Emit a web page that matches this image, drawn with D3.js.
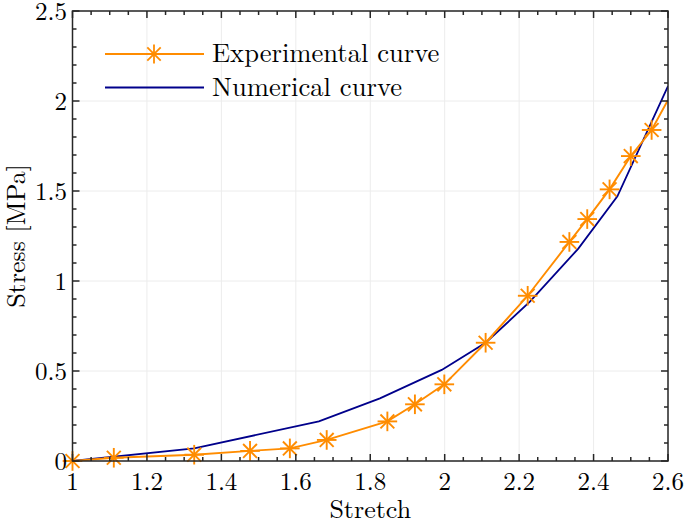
<!DOCTYPE html>
<html>
<head>
<meta charset="utf-8">
<script src="https://cdn.jsdelivr.net/npm/d3@7"></script>
<style>
  html, body { margin: 0; padding: 0; background: #fff; }
  svg { display: block; }
</style>
</head>
<body>
<svg id="chart" width="685" height="520"></svg>
<script>
// ---- data ----
const stretchExp = [1.0, 1.111, 1.327, 1.477, 1.584, 1.683, 1.846, 1.920, 1.999, 2.110, 2.223, 2.335, 2.383, 2.443, 2.500, 2.556, 2.600];
const stressExp  = [0.0, 0.018, 0.035, 0.056, 0.070, 0.117, 0.220, 0.315, 0.426, 0.657, 0.918, 1.217, 1.344, 1.509, 1.694, 1.839, 2.006];
const stretchNum = [1.0, 1.327, 1.662, 1.826, 1.992, 2.110, 2.229, 2.359, 2.464, 2.600];
const stressNum  = [0.0, 0.070, 0.220, 0.348, 0.506, 0.657, 0.885, 1.180, 1.470, 2.083];
const xTicks = [1, 1.2, 1.4, 1.6, 1.8, 2, 2.2, 2.4, 2.6];
const yTicks = [0, 0.5, 1, 1.5, 2, 2.5];
const seriesNames = ["Experimental curve", "Numerical curve"];
const colors = ["#FF8C00", "#00008B"];

const FONT = "'Latin Modern Roman', 'CMU Serif', 'Liberation Serif', serif";
const svg = d3.select("#chart").attr("font-family", FONT);
const L = 72.5, R = 668, T = 11, B = 461;
const x = d3.scaleLinear().domain([1, 2.6]).range([L, R]);
const y = d3.scaleLinear().domain([0, 2.5]).range([B, T]);

// grid
const g = svg.append("g");
g.selectAll(".gx").data(xTicks).join("line")
  .attr("x1", d => x(d)).attr("x2", d => x(d)).attr("y1", T).attr("y2", B)
  .attr("stroke", "#ececec").attr("stroke-width", 1);
g.selectAll(".gy").data(yTicks).join("line")
  .attr("x1", L).attr("x2", R).attr("y1", d => y(d)).attr("y2", d => y(d))
  .attr("stroke", "#ececec").attr("stroke-width", 1);

// clip
svg.append("clipPath").attr("id", "clip").append("rect")
  .attr("x", L).attr("y", T).attr("width", R - L).attr("height", B - T);

const plot = svg.append("g").attr("clip-path", "url(#clip)");
const line = d3.line().x(d => x(d[0])).y(d => y(d[1]));

const expData = stretchExp.map((v, i) => [v, stressExp[i]]);
const numData = stretchNum.map((v, i) => [v, stressNum[i]]);

plot.append("path").datum(numData).attr("d", line)
  .attr("fill", "none").attr("stroke", colors[1]).attr("stroke-width", 1.8);
plot.append("path").datum(expData).attr("d", line)
  .attr("fill", "none").attr("stroke", colors[0]).attr("stroke-width", 1.9);

function asterisk(sel, s) {
  const d = s * 0.7071;
  sel.append("line").attr("x1", -s).attr("x2", s).attr("y1", 0).attr("y2", 0);
  sel.append("line").attr("x1", 0).attr("x2", 0).attr("y1", -s).attr("y2", s);
  sel.append("line").attr("x1", -d).attr("x2", d).attr("y1", -d).attr("y2", d);
  sel.append("line").attr("x1", -d).attr("x2", d).attr("y1", d).attr("y2", -d);
}
const markers = svg.append("g").attr("stroke", colors[0]).attr("stroke-width", 1.9);
expData.filter(d => d[0] < 2.6).forEach(d => {
  const m = markers.append("g").attr("transform", `translate(${x(d[0])},${y(d[1])})`);
  asterisk(m, 9.8);
});

// axes box with inward ticks
const axisColor = "#262626";
const ax = svg.append("g").attr("stroke", axisColor).attr("stroke-width", 1.5);
const xMinor = d3.range(1, 2.6001, 0.05);
const yMinor = d3.range(0, 2.5001, 0.1);
const isMajorX = v => xTicks.some(t => Math.abs(t - v) < 1e-6);
const isMajorY = v => yTicks.some(t => Math.abs(t - v) < 1e-6);
xMinor.forEach(v => {
  const len = isMajorX(v) ? 7 : 4;
  ax.append("line").attr("x1", x(v)).attr("x2", x(v)).attr("y1", B).attr("y2", B - len);
  ax.append("line").attr("x1", x(v)).attr("x2", x(v)).attr("y1", T).attr("y2", T + len);
});
yMinor.forEach(v => {
  const len = isMajorY(v) ? 7 : 4;
  ax.append("line").attr("y1", y(v)).attr("y2", y(v)).attr("x1", L).attr("x2", L + len);
  ax.append("line").attr("y1", y(v)).attr("y2", y(v)).attr("x1", R).attr("x2", R - len);
});
ax.append("rect").attr("x", L).attr("y", T).attr("width", R - L).attr("height", B - T)
  .attr("fill", "none");

// tick labels
svg.append("g").selectAll("text").data(xTicks).join("text")
  .attr("x", d => x(d)).attr("y", 490).attr("text-anchor", "middle")
  .attr("font-family", FONT).attr("font-size", 25).attr("fill", "#000")
  .text(d => d3.format("")(d));
svg.append("g").selectAll("text").data(yTicks).join("text")
  .attr("x", 67).attr("y", d => y(d) + 8.5).attr("text-anchor", "end")
  .attr("font-family", FONT).attr("font-size", 25).attr("fill", "#000")
  .text(d => d3.format("")(d));

// axis labels
svg.append("text").attr("x", x(1.8)).attr("y", 518).attr("text-anchor", "middle")
  .attr("font-family", FONT).attr("font-size", 26).attr("fill", "#000").text("Stretch");
svg.append("text").attr("transform", "translate(25,236) rotate(-90)")
  .attr("text-anchor", "middle").attr("font-family", FONT).attr("font-size", 26)
  .attr("fill", "#000").text("Stress [MPa]");

// legend
const leg = svg.append("g");
seriesNames.forEach((name, i) => {
  const ly = 54 + i * 33.5;
  leg.append("line").attr("x1", 105).attr("x2", 204).attr("y1", ly).attr("y2", ly)
    .attr("stroke", colors[i]).attr("stroke-width", 1.8);
  if (i === 0) {
    const m = leg.append("g").attr("transform", `translate(154,${ly})`)
      .attr("stroke", colors[0]).attr("stroke-width", 1.8);
    asterisk(m, 9.5);
  }
  leg.append("text").attr("x", 212).attr("y", ly + 8).attr("font-family", FONT)
    .attr("font-size", 26.6).attr("fill", "#000").text(name);
});
</script>
</body>
</html>
